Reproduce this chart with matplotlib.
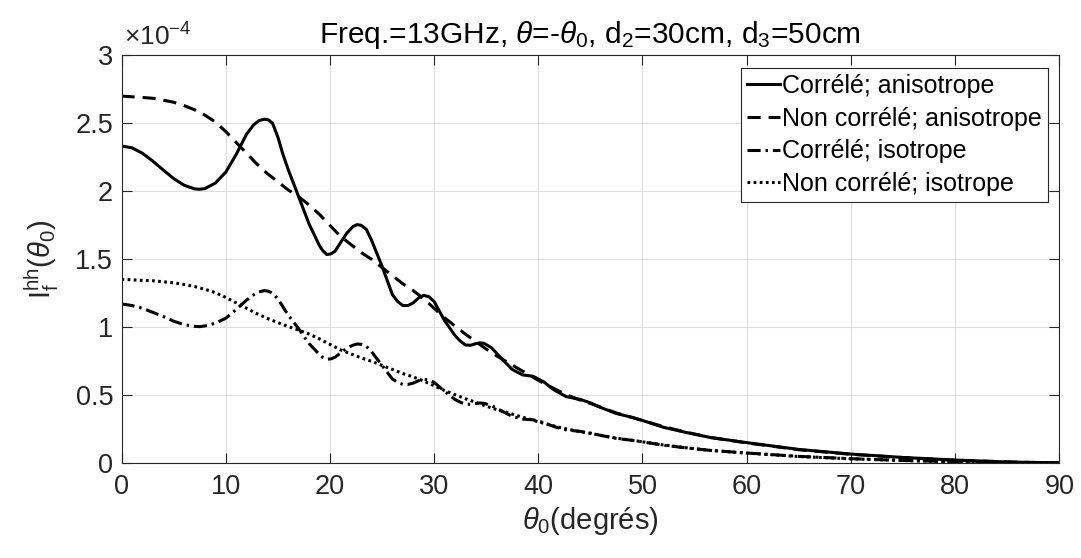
import matplotlib
matplotlib.use("Agg")
import matplotlib.pyplot as plt

plt.rcParams['font.family'] = ['Liberation Sans', 'DejaVu Sans']
plt.rcParams['mathtext.fontset'] = 'custom'
plt.rcParams['mathtext.rm'] = 'Liberation Sans'
plt.rcParams['mathtext.it'] = 'Liberation Sans:italic'
plt.rcParams['mathtext.bf'] = 'Liberation Sans:bold'

# ---- data (values in units of 1e-4) ----
theta_ca = [0, 1, 2, 3, 4, 5, 6, 7, 7.5, 8, 9, 10, 11, 12, 12.7, 13.2, 13.7, 14.1, 14.5, 15, 15.5,
            16, 17, 18, 19, 19.3, 19.7, 20.1, 20.5, 21, 21.6, 22.2, 22.6, 23.0, 23.5, 24, 25, 26,
            26.5, 27, 27.5, 28, 28.5, 29, 29.5, 30, 31, 32, 32.5, 33, 33.5, 34, 34.4, 34.8, 35.5,
            36.6, 37.5, 38.5, 39.5, 40.5, 41.5, 42.7, 44, 45, 46, 47.5, 49, 50, 52, 54, 56.5,
            60, 65, 70, 75, 80, 85, 90]
corr_aniso = [2.333, 2.32, 2.28, 2.222, 2.157, 2.094, 2.045, 2.018, 2.015, 2.02, 2.06, 2.14,
              2.27, 2.42, 2.49, 2.52, 2.53, 2.525, 2.50, 2.40, 2.27, 2.16, 1.96, 1.76, 1.60,
              1.565, 1.535, 1.54, 1.56, 1.62, 1.69, 1.74, 1.755, 1.75, 1.72, 1.64, 1.45, 1.24,
              1.19, 1.16, 1.16, 1.18, 1.215, 1.235, 1.225, 1.19, 1.05, 0.94, 0.90, 0.87, 0.868,
              0.88, 0.886, 0.882, 0.85, 0.76, 0.69, 0.65, 0.64, 0.60, 0.54, 0.49, 0.47, 0.445,
              0.41, 0.366, 0.338, 0.315, 0.265, 0.230, 0.19, 0.152, 0.102, 0.068, 0.043, 0.024,
              0.010, 0.003]

theta_na = [0, 2, 3, 4, 5, 6, 7, 8, 9, 10, 11, 12, 13, 14, 15, 16, 17, 18, 19, 20, 21, 22, 23, 24,
            25, 26, 27, 28, 29, 30, 31, 32, 33, 34, 35, 36, 37, 38, 39, 40, 41, 42, 43, 44, 45,
            47.5, 50, 52, 54, 56.5, 60, 65, 70, 75, 80, 85, 90]
noncorr_aniso = [2.70, 2.69, 2.684, 2.67, 2.655, 2.63, 2.60, 2.56, 2.51, 2.44, 2.36, 2.28, 2.20,
                 2.13, 2.07, 2.01, 1.96, 1.90, 1.83, 1.75, 1.67, 1.61, 1.55, 1.50, 1.44, 1.38,
                 1.32, 1.27, 1.21, 1.14, 1.07, 1.01, 0.95, 0.895, 0.84, 0.79, 0.745, 0.70, 0.655,
                 0.61, 0.57, 0.53, 0.495, 0.465, 0.44, 0.37, 0.315, 0.27, 0.232, 0.19, 0.15,
                 0.10, 0.066, 0.042, 0.023, 0.010, 0.002]

corr_iso = [1.172, 1.16, 1.14, 1.11, 1.08, 1.045, 1.02, 1.007, 1.005, 1.01, 1.03, 1.066, 1.13,
            1.20, 1.24, 1.26, 1.27, 1.265, 1.25, 1.21, 1.15, 1.09, 0.99, 0.88, 0.80, 0.78, 0.765,
            0.768, 0.78, 0.81, 0.845, 0.868, 0.877, 0.875, 0.86, 0.82, 0.72, 0.62, 0.595, 0.58,
            0.58, 0.59, 0.607, 0.618, 0.613, 0.595, 0.53, 0.47, 0.45, 0.435, 0.434, 0.44, 0.443,
            0.441, 0.425, 0.38, 0.345, 0.325, 0.32, 0.30, 0.27, 0.245, 0.235, 0.222, 0.205,
            0.183, 0.169, 0.158, 0.133, 0.115, 0.095, 0.076, 0.051, 0.034, 0.021, 0.012, 0.005,
            0.0015]

noncorr_iso = [1.353, 1.345, 1.342, 1.335, 1.327, 1.315, 1.30, 1.28, 1.255, 1.22, 1.18, 1.14,
               1.10, 1.065, 1.035, 1.005, 0.98, 0.95, 0.915, 0.875, 0.835, 0.805, 0.775, 0.75,
               0.72, 0.69, 0.66, 0.635, 0.605, 0.57, 0.535, 0.505, 0.475, 0.448, 0.42, 0.395,
               0.373, 0.35, 0.328, 0.305, 0.285, 0.265, 0.248, 0.233, 0.22, 0.185, 0.158, 0.135,
               0.116, 0.095, 0.075, 0.05, 0.033, 0.021, 0.0115, 0.005, 0.001]

labels = ['Corrélé; anisotrope', 'Non corrélé; anisotrope', 'Corrélé; isotrope',
          'Non corrélé; isotrope']
xticks = [0, 10, 20, 30, 40, 50, 60, 70, 80, 90]
yticks = [0, 0.5, 1, 1.5, 2, 2.5, 3]
ytick_labels = ['0', '0.5', '1', '1.5', '2', '2.5', '3']

# ---- figure ----
fig = plt.figure(figsize=(10.81, 5.58), dpi=100)
ax = fig.add_axes([0.1124, 0.1697, 0.8675, 0.7312])

lw = 2.2
ax.plot(theta_ca, corr_aniso, color='black', lw=lw, ls='-', label=labels[0])
ax.plot(theta_na, noncorr_aniso, color='black', lw=lw, ls=(0, (4.3, 2.6)), label=labels[1])
ax.plot(theta_ca, corr_iso, color='black', lw=lw, ls=(0, (4.3, 1.6, 0.8, 1.6)), label=labels[2])
ax.plot(theta_na, noncorr_iso, color='black', lw=lw, ls=(0, (0.9, 1.1)), label=labels[3])

ax.set_xlim(0, 90)
ax.set_ylim(0, 3)
ax.set_xticks(xticks)
ax.set_yticks(yticks)
ax.set_yticklabels(ytick_labels)

dark = '#262626'
for s in ax.spines.values():
    s.set_color(dark)
    s.set_linewidth(0.8)
ax.tick_params(direction='in', length=7, width=0.8, colors=dark, labelsize=19.5,
               top=True, right=True)
ax.tick_params(axis='x', pad=8)
ax.tick_params(axis='y', pad=6)
ax.grid(True, color='#dfdfdf', lw=0.8)
ax.set_axisbelow(True)

ax.set_xlabel(r'$\theta_0$(degrés)', fontsize=21, color=dark, labelpad=3)
ax.set_ylabel(r'I$_\mathrm{f}^\mathrm{hh}$($\theta_0$)', fontsize=21, color=dark, labelpad=10)
ax.set_title(r'Freq.=13GHz, $\theta$=-$\theta_0$, d$_2$=30cm, d$_3$=50cm', fontsize=21.5,
             color='black', pad=9)
ax.text(0.003, 1.012, r'$\times10^{-4}$', transform=ax.transAxes, fontsize=19, color=dark,
        ha='left', va='bottom')

leg = ax.legend(loc='upper right', bbox_to_anchor=(0.988, 0.97), fontsize=18,
                handlelength=1.3, handletextpad=0.1, borderpad=0.25, labelspacing=0.35,
                fancybox=False, framealpha=1, edgecolor=dark, borderaxespad=0.0)
leg.get_frame().set_linewidth(0.8)

fig.savefig('out.png', dpi=100)
